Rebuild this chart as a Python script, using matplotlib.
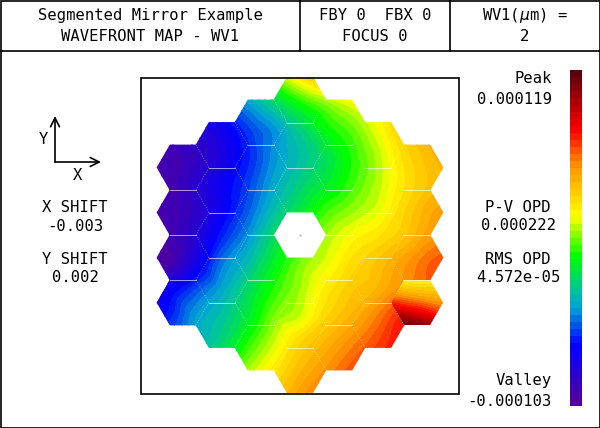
import numpy as np
import matplotlib
matplotlib.use("Agg")
import matplotlib.pyplot as plt
import matplotlib.tri as mtri
from collections import Counter
from matplotlib.colors import LinearSegmentedColormap
from matplotlib.path import Path
from matplotlib.patches import PathPatch, Rectangle

plt.rcParams['font.family'] = ['DejaVu Sans Mono']
plt.rcParams['mathtext.fontset'] = 'dejavusans'

# wavefront, as fraction of the colour bar (0 = valley, 1 = peak)
grid_x = [144, 170, 196, 222, 248, 274, 300, 326, 352, 378, 404, 430, 456]
grid_y = [76, 102.7, 129.3, 156, 182.7, 209.3, 236, 262.7, 289.3, 316, 342.7, 369.3, 396]
wave = [
    [.02, .05, .12, .30, .38, .50, .60, .68, .72, .74, .76, .78, .80],
    [.03, .05, .12, .22, .29, .37, .45, .51, .56, .60, .65, .70, .74],
    [.04, .07, .11, .15, .22, .28, .36, .44, .49, .56, .64, .68, .72],
    [.03, .05, .08, .13, .20, .28, .335, .39, .46, .53, .61, .66, .70],
    [.03, .05, .10, .16, .22, .30, .36, .41, .47, .53, .60, .65, .68],
    [.03, .05, .09, .16, .24, .33, .40, .47, .51, .55, .62, .68, .70],
    [.02, .05, .11, .20, .28, .38, .45, .52, .57, .60, .64, .70, .73],
    [.02, .04, .14, .26, .33, .42, .50, .55, .61, .65, .70, .75, .78],
    [.08, .16, .23, .30, .38, .46, .52, .59, .64, .67, .72, .76, .78],
    [.16, .20, .29, .34, .41, .50, .54, .62, .67, .73, .80, .82, .84],
    [.22, .26, .31, .37, .46, .54, .62, .67, .72, .77, .82, .84, .86],
    [.30, .34, .38, .44, .52, .59, .66, .71, .76, .80, .84, .86, .88],
    [.36, .40, .44, .50, .58, .64, .70, .75, .80, .84, .86, .88, .90],
]

# the tilted lower right segment has its own field
tilt_x = [388, 417, 446]
tilt_y = [279, 295, 310, 327]
tilt_wave = [
    [.58, .57, .57],
    [.72, .68, .66],
    [.87, .82, .75],
    [1.0, .97, .90],
]
tilt_seg = (417, 302.5)

# segment centres, one list of rows per column of the hexagon layout
col_x = [183, 222, 261, 300, 339, 378, 417]
col_rows = [
    [167.5, 212.5, 257.5, 302.5],
    [145, 190, 235, 280, 325],
    [122.5, 167.5, 212.5, 257.5, 302.5, 347.5],
    [100, 145, 190, 280, 325, 370],
    [122.5, 167.5, 212.5, 257.5, 302.5, 347.5],
    [145, 190, 235, 280, 325],
    [167.5, 212.5, 257.5, 302.5],
]
hole = (300, 235)
n_levels = 48

bar_stops = [0, .176, .286, .33, .446, .535, .565, .717, .827, 1]
bar_colors = ['#55009a', '#0000ff', '#00a0d8', '#00beaa', '#00ff00',
              '#beff00', '#ffff00', '#ff9600', '#ff0000', '#5a000a']

cmap = LinearSegmentedColormap.from_list('zemax', list(zip(bar_stops, bar_colors)), N=n_levels)
levels = np.linspace(0, 1, n_levels + 1)

R = 26.0
H = 22.5


def hex_corners(cx, cy, grow=0.0):
    r, h = R + grow, H + grow
    return [(cx - r, cy), (cx - r / 2, cy - h), (cx + r / 2, cy - h),
            (cx + r, cy), (cx + r / 2, cy + h), (cx - r / 2, cy + h)]


def hex_path(centres, grow=0.0):
    verts, codes = [], []
    for cx, cy in centres:
        pts = hex_corners(cx, cy, grow)
        verts += pts + [pts[0]]
        codes += [Path.MOVETO] + [Path.LINETO] * 5 + [Path.CLOSEPOLY]
    return Path(verts, codes)


def smooth_bands(ax, xs, ys, values):
    # let matplotlib's cubic tri interpolator round off the coarse readings
    gx, gy = np.meshgrid(xs, ys)
    tri = mtri.Triangulation(gx.ravel(), gy.ravel())
    refiner = mtri.UniformTriRefiner(tri)
    interp = mtri.CubicTriInterpolator(tri, np.array(values).ravel(), kind='geom')
    fine_tri, fine_z = refiner.refine_field(np.array(values).ravel(), interp, subdiv=3)
    return ax.tricontourf(fine_tri, fine_z, levels=levels, cmap=cmap, vmin=0, vmax=1, extend='both')


fig = plt.figure(figsize=(6, 4.28), dpi=100)
ax = fig.add_axes([0, 0, 1, 1])
ax.set_xlim(0, 600)
ax.set_ylim(428, 0)
ax.axis('off')

segments = [(x, y) for x, rows in zip(col_x, col_rows) for y in rows]
main_segs = [s for s in segments if s != tilt_seg]

# contour bands, clipped to the segments (grown a little so the clip leaves no seams)
cs = smooth_bands(ax, grid_x, grid_y, wave)
clip = PathPatch(hex_path(main_segs, 0.4), transform=ax.transData, fc='none', ec='none')
ax.add_patch(clip)
cs.set_clip_path(clip)

cs2 = smooth_bands(ax, tilt_x, tilt_y, tilt_wave)
clip2 = PathPatch(hex_path([tilt_seg]), transform=ax.transData, fc='none', ec='none')
ax.add_patch(clip2)
cs2.set_clip_path(clip2)

# re-cut the hole, the neighbours' grown clip would eat into it
ax.add_patch(PathPatch(hex_path([hole]), fc='white', ec='none'))

# thin white gaps, only on edges two segments share
edges = Counter()
for cx, cy in segments:
    pts = hex_corners(cx, cy)
    for i in range(6):
        a, b = pts[i], pts[(i + 1) % 6]
        edges[tuple(sorted((a, b)))] += 1
for (a, b), count in edges.items():
    if count < 2:
        continue
    if a[1] == b[1]:
        ax.plot([a[0], b[0]], [a[1], b[1]], color='white', lw=0.6, alpha=0.7)
    else:
        ax.plot([a[0], b[0]], [a[1], b[1]], color='white', lw=0.4, ls=(0, (1.5, 3)), alpha=0.7)
ax.plot(hole[0], hole[1], '.', color='#aaaaaa', ms=1)

# map frame
ax.add_patch(Rectangle((140.5, 77.5), 318.5, 316.5, fc='none', ec='black', lw=1.2))

# outer frame and header
ax.add_patch(Rectangle((0.5, 0.5), 599, 427, fc='none', ec='black', lw=1.2))
ax.plot([0, 600], [51, 51], color='black', lw=1.2)
ax.plot([300, 300], [0, 51], color='black', lw=1.2)
ax.plot([450, 450], [0, 51], color='black', lw=1.2)

fs = 11.2
txt = dict(fontsize=fs, va='center', color='black')
ax.text(150, 15, 'Segmented Mirror Example', ha='center', **txt)
ax.text(150, 36, 'WAVEFRONT MAP - WV1', ha='center', **txt)
ax.text(375, 15, 'FBY 0  FBX 0', ha='center', **txt)
ax.text(375, 36, 'FOCUS 0', ha='center', **txt)
ax.text(525, 15, r'WV1($\mu$m) =', ha='center', **txt)
ax.text(525, 36, '2', ha='center', **txt)

# axis marker
ax.annotate('', xy=(55, 116), xytext=(55, 162),
            arrowprops=dict(arrowstyle='->', color='black', lw=1.2, mutation_scale=16, shrinkA=0, shrinkB=0))
ax.annotate('', xy=(101, 162), xytext=(55, 162),
            arrowprops=dict(arrowstyle='->', color='black', lw=1.2, mutation_scale=16, shrinkA=0, shrinkB=0))
ax.text(43, 140, 'Y', ha='center', **txt)
ax.text(78, 175, 'X', ha='center', **txt)

ax.text(75, 207, 'X SHIFT', ha='center', **txt)
ax.text(75, 226, '-0.003', ha='center', **txt)
ax.text(75, 260, 'Y SHIFT', ha='center', **txt)
ax.text(75, 278, '0.002', ha='center', **txt)

ax.text(552, 78, 'Peak', ha='right', **txt)
ax.text(552, 99, '0.000119', ha='right', **txt)
ax.text(518, 207, 'P-V OPD', ha='center', **txt)
ax.text(518, 225, '0.000222', ha='center', **txt)
ax.text(518, 260, 'RMS OPD', ha='center', **txt)
ax.text(518, 278, '4.572e-05', ha='center', **txt)
ax.text(552, 381, 'Valley', ha='right', **txt)
ax.text(552, 402, '-0.000103', ha='right', **txt)

# colour bar
ax.imshow(((np.arange(n_levels)[::-1] + 0.5) / n_levels)[:, None], cmap=cmap, vmin=0, vmax=1,
          extent=(570, 582, 406, 70), aspect='auto', interpolation='nearest')
ax.set_xlim(0, 600)
ax.set_ylim(428, 0)

fig.savefig('out.png', dpi=100)
